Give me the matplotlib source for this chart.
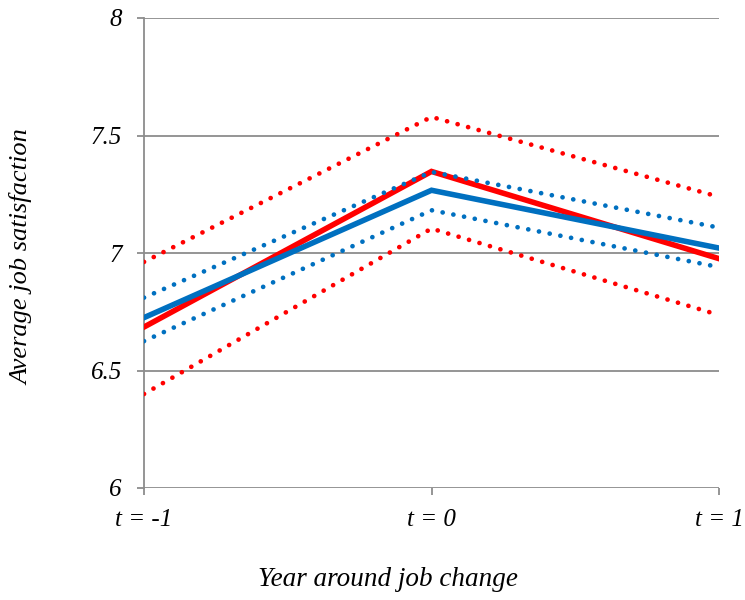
import numpy as np
import matplotlib
matplotlib.use('Agg')
import matplotlib.pyplot as plt

years = ['t = -1', 't = 0', 't = 1']

# red series: estimate with lower / upper bound
red_mean = [6.685, 7.347, 6.976]
red_low = [6.40, 7.104, 6.736]
red_high = [6.962, 7.579, 7.239]

# blue series
blue_mean = [6.725, 7.267, 7.021]
blue_low = [6.625, 7.182, 6.94]
blue_high = [6.81, 7.345, 7.108]

RED = '#FF0000'
BLUE = '#0070C0'
GRID = '#8C8C8C'

plt.rcParams['font.family'] = ['Liberation Serif', 'DejaVu Serif']

fig = plt.figure(figsize=(7.45, 6), dpi=100)
ax = fig.add_axes([144/745, 1-488/600, (719-144)/745, (488-18)/600])

x = np.arange(len(years))
dot = (0, (0.01, 2.3))

ax.plot(x, red_high, color=RED, lw=3.4, ls=dot, dash_capstyle='round', zorder=3)
ax.plot(x, red_low, color=RED, lw=3.4, ls=dot, dash_capstyle='round', zorder=3)
ax.plot(x, red_mean, color=RED, lw=4, solid_joinstyle='miter', zorder=3)
ax.plot(x, blue_high, color=BLUE, lw=3.4, ls=dot, dash_capstyle='round', zorder=4)
ax.plot(x, blue_low, color=BLUE, lw=3.4, ls=dot, dash_capstyle='round', zorder=4)
ax.plot(x, blue_mean, color=BLUE, lw=4, solid_joinstyle='miter', zorder=4)

ax.set_xlim(0, 2)
ax.set_ylim(6, 8)
ax.set_yticks([6, 6.5, 7, 7.5, 8])
ax.set_yticklabels(['6', '6.5', '7', '7.5', '8'])
ax.set_xticks(x)
ax.set_xticklabels(years)

ax.yaxis.grid(True, color=GRID, lw=1.3)
ax.set_axisbelow(True)
for s in ['top', 'right', 'bottom']:
    ax.spines[s].set_visible(False)
ax.spines['left'].set_color(GRID)
ax.spines['left'].set_linewidth(1.3)
ax.tick_params(axis='both', colors=GRID, width=1.3, length=5, labelsize=18, labelcolor='black')
ax.tick_params(axis='y', pad=11)
ax.tick_params(axis='x', pad=10)
for lab in ax.get_xticklabels() + ax.get_yticklabels():
    lab.set_style('italic')

fig.text(22/745, 1-257/600, 'Average job satisfaction', rotation=90, ha='center', va='center',
         fontsize=19, style='italic')
fig.text(388/745, 1-580/600, 'Year around job change', ha='center', va='center',
         fontsize=19.5, style='italic')

fig.savefig('out.png', dpi=100)
